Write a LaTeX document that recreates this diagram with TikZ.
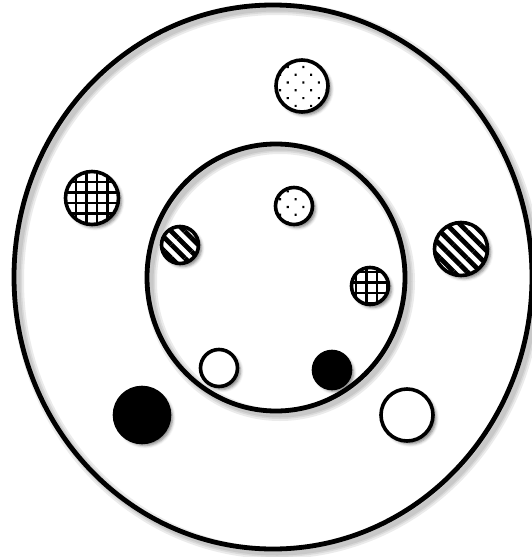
\documentclass[tikz,border=0pt]{standalone}
\usetikzlibrary{patterns.meta,shadows.blur}
\begin{document}
\begin{tikzpicture}[x=1pt,y=-1pt,
  dot/.style={circle,draw=black,line width=3.6pt,inner sep=0pt,fill=white,
    blur shadow={shadow xshift=3pt,shadow yshift=-3pt,shadow blur radius=3pt,shadow opacity=50}},
  big/.style={dot,minimum size=52pt},
  small/.style={dot,minimum size=37pt},
  dotsfill/.style={postaction={pattern={Dots[radius=1.5pt,distance=11pt,angle=45]}}},
  gridfill/.style={path picture={
    \begin{scope}[shift={(path picture bounding box.center)}]
      \foreach \i in {-37,-26.5,...,38}{
        \draw[line width=2.7pt] (\i+#1,-40)--(\i+#1,40) (-40,\i+#1)--(40,\i+#1);}
    \end{scope}}},
  hatchfill/.style={postaction={pattern={Lines[angle=-45,distance=9.5pt,line width=4.8pt]}}},
  solid/.style={fill=black},
  ringshadow/.style={draw=black,opacity=0.08},
  ring/.style={draw=black,line width=4.8pt}
]
\useasboundingbox (0,0) rectangle (532,557);
% ring shadows
\foreach \w in {12,8,5}{
  \draw[ringshadow,line width=\w pt] (277,281) ellipse [x radius=259,y radius=272];
  \draw[ringshadow,line width=\w pt] (280,281.5) ellipse [x radius=129,y radius=133.5];
}
\draw[ring] (273,277) ellipse [x radius=259,y radius=272];
\draw[ring] (276,277.5) ellipse [x radius=129,y radius=133.5];
% outer small circles
\node[big,dotsfill] (a1) at (302,86) {};
\node[big,gridfill=0,minimum size=53pt] (a2) at (92,198) {};
\node[big,hatchfill,minimum size=53pt] (a3) at (461,249) {};
\node[big,solid,minimum size=55pt] (a4) at (142,415) {};
\node[big] (a5) at (407,415) {};
% inner small circles
\node[small,dotsfill] (b1) at (294,206) {};
\node[small,hatchfill] (b2) at (180,245) {};
\node[small,gridfill=2] (b3) at (370,286) {};
\node[small] (b4) at (219,368) {};
\node[small,solid] (b5) at (332,370) {};
\end{tikzpicture}
\end{document}
